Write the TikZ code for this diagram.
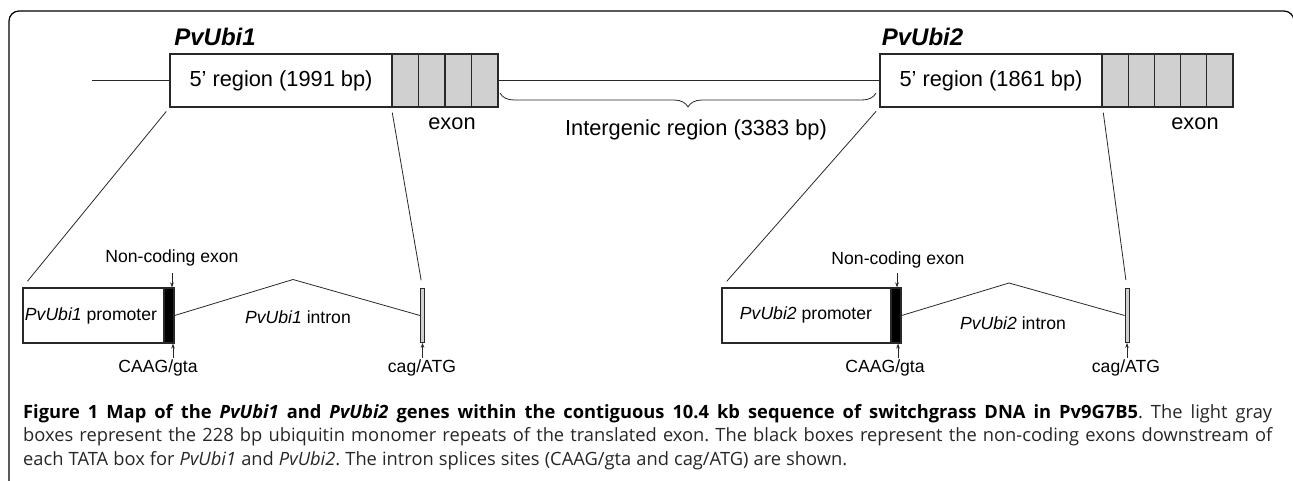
\documentclass[tikz,border=0pt]{standalone}
\usepackage{fontspec}
\setmainfont{Liberation Sans}
\newfontfamily\capfont{Open Sans}
\usetikzlibrary{decorations.pathreplacing,arrows.meta,calc}
\definecolor{exongray}{RGB}{208,208,208}
\definecolor{ink}{RGB}{40,40,40}
\newcommand{\capspace}{\spaceskip=0.26em plus 1em minus 0.09em\relax}
\begin{document}
\begin{tikzpicture}[x=1pt,y=-1pt,
  box/.style={draw=ink, line width=1.2pt, inner sep=0pt, anchor=center},
  region/.style={box, fill=white, minimum height=53pt, font=\fontsize{21.8}{24}\selectfont},
  exonseg/.style={box, fill=exongray, minimum height=53pt, minimum width=26.4pt},
  small/.style={box, minimum height=55pt},
  toplab/.style={inner sep=0pt, font=\fontsize{21.8}{24}\selectfont},
  botlab/.style={inner sep=0pt, font=\fontsize{17.6}{20}\selectfont},
  title/.style={inner sep=0pt, font=\fontsize{24}{26}\selectfont\bfseries\itshape},
  thin/.style={draw=ink, line width=0.8pt},
  arr/.style={draw=ink, line width=0.6pt, -{Stealth[length=5pt,width=3.6pt]}},
  diag/.style={thin, shorten <=5pt, shorten >=8pt},
  capline/.style={anchor=base west, inner sep=0pt, font=\capfont\fontsize{18.3}{23.5}\selectfont\frenchspacing\capspace, text=black!85}]
\clip (0,0) rectangle (1293,480);
% frame
\draw[line width=1.2pt, rounded corners=10pt] (9,500) -- (9,11) -- (1294,11) -- (1294,500);

% ---- top row
\node[title] (t1) at (215,37) {PvUbi1};
\node[title] (t2) at (922.5,37) {PvUbi2};
\coordinate (l0) at (92,80.5);
\node[region, minimum width=222pt] (r1) at (281,80.5) {5’ region (1991 bp)};
\foreach \i in {1,...,4}{
  \pgfmathsetmacro{\xx}{392+26.5*(\i-0.5)}
  \node[exonseg, minimum width=26.5pt] (ea\i) at (\xx,80.5) {};
}
\node[region, minimum width=222pt] (r2) at (991,80.5) {5’ region (1861 bp)};
\foreach \i in {1,...,5}{
  \pgfmathsetmacro{\xx}{1102+26.2*(\i-0.5)}
  \node[exonseg, minimum width=26.2pt] (eb\i) at (\xx,80.5) {};
}
\draw[thin] (l0) -- (r1.west);
\draw[thin] (ea4.east) -- (r2.west);
\coordinate (bl) at (500,93);
\coordinate (br) at (876,93);
\draw[thin, decorate, decoration={brace, mirror, amplitude=14pt}] (bl) -- (br);
\node[toplab] (ex1) at (452,124) {exon};
\node[toplab] (ex2) at (1195,124) {exon};
\node[toplab] (ig) at (696,130) {Intergenic region (3383 bp)};

% ---- bottom row 1
\node[small, fill=white, minimum width=141pt] (p1) at (93.5,315.5) {};
\node[botlab] at (91,316) {\itshape PvUbi1\upshape{} promoter};
\node[small, fill=black, minimum width=10pt] (b1) at (169,315.5) {};
\node[box, line width=0.8pt, fill=exongray, minimum width=4pt, minimum height=54pt] (g1) at (422.5,315.5) {};
\coordinate (k1) at (293,279.5);
\draw[thin] (b1.east) -- (k1) -- (g1.west);
\node[botlab] (in1) at (298,317) {\itshape PvUbi1\upshape{} intron};
\node[botlab] (nc1) at (172,258) {Non-coding exon};
\coordinate (a1) at (172,273);
\draw[arr] (a1) -- (a1 |- b1.north);
\node[botlab] (cg1) at (158,368) {CAAG/gta};
\coordinate (c1) at (173,358);
\draw[arr] (c1) -- (c1 |- b1.south);
\node[botlab] (ca1) at (422,368) {cag/ATG};
\coordinate (d1) at (422.5,358);
\draw[arr] (d1) -- (d1 |- g1.south);
\draw[diag] (r1.south west) -- (p1.north west);
\draw[diag] (ea1.south west) -- (g1.north);

% ---- bottom row 2
\node[small, fill=white, minimum width=169pt] (p2) at (806.5,315.5) {};
\node[botlab] at (806,315) {\itshape PvUbi2\upshape{} promoter};
\node[small, fill=black, minimum width=10pt] (b2) at (896,315.5) {};
\node[box, line width=0.8pt, fill=exongray, minimum width=4pt, minimum height=54pt] (g2) at (1127,315.5) {};
\coordinate (k2) at (1009,283);
\draw[thin] (b2.east) -- (k2) -- (g2.west);
\node[botlab] (in2) at (1013,323) {\itshape PvUbi2\upshape{} intron};
\node[botlab] (nc2) at (898,260) {Non-coding exon};
\coordinate (a2) at (897,273);
\draw[arr] (a2) -- (a2 |- b2.north);
\node[botlab] (cg2) at (885,368) {CAAG/gta};
\coordinate (c2) at (898,358);
\draw[arr] (c2) -- (c2 |- b2.south);
\node[botlab] (ca2) at (1126,368) {cag/ATG};
\coordinate (d2) at (1127,358);
\draw[arr] (d2) -- (d2 |- g2.south);
\draw[diag] (r2.south west) -- (p2.north west);
\draw[diag] (r2.south east) -- (g2.north);

% ---- caption
\node[capline] (cap1) at (23,418) {\hbox to 1249pt{\capspace\textbf{\color{black}Figure 1 Map of the \textit{PvUbi1} and \textit{PvUbi2} genes within the contiguous 10.4 kb sequence of switchgrass DNA in Pv9G7B5}. The light gray}};
\node[capline] (cap2) at (23,441.5) {\hbox to 1249pt{\capspace boxes represent the 228 bp ubiquitin monomer repeats of the translated exon. The black boxes represent the non-coding exons downstream of}};
\node[capline] (cap3) at (23,465) {\hbox to 824pt{\capspace each TATA box for \textit{PvUbi1} and \textit{PvUbi2}. The intron splices sites (CAAG/gta and cag/ATG) are shown.}};
\end{tikzpicture}
\end{document}
